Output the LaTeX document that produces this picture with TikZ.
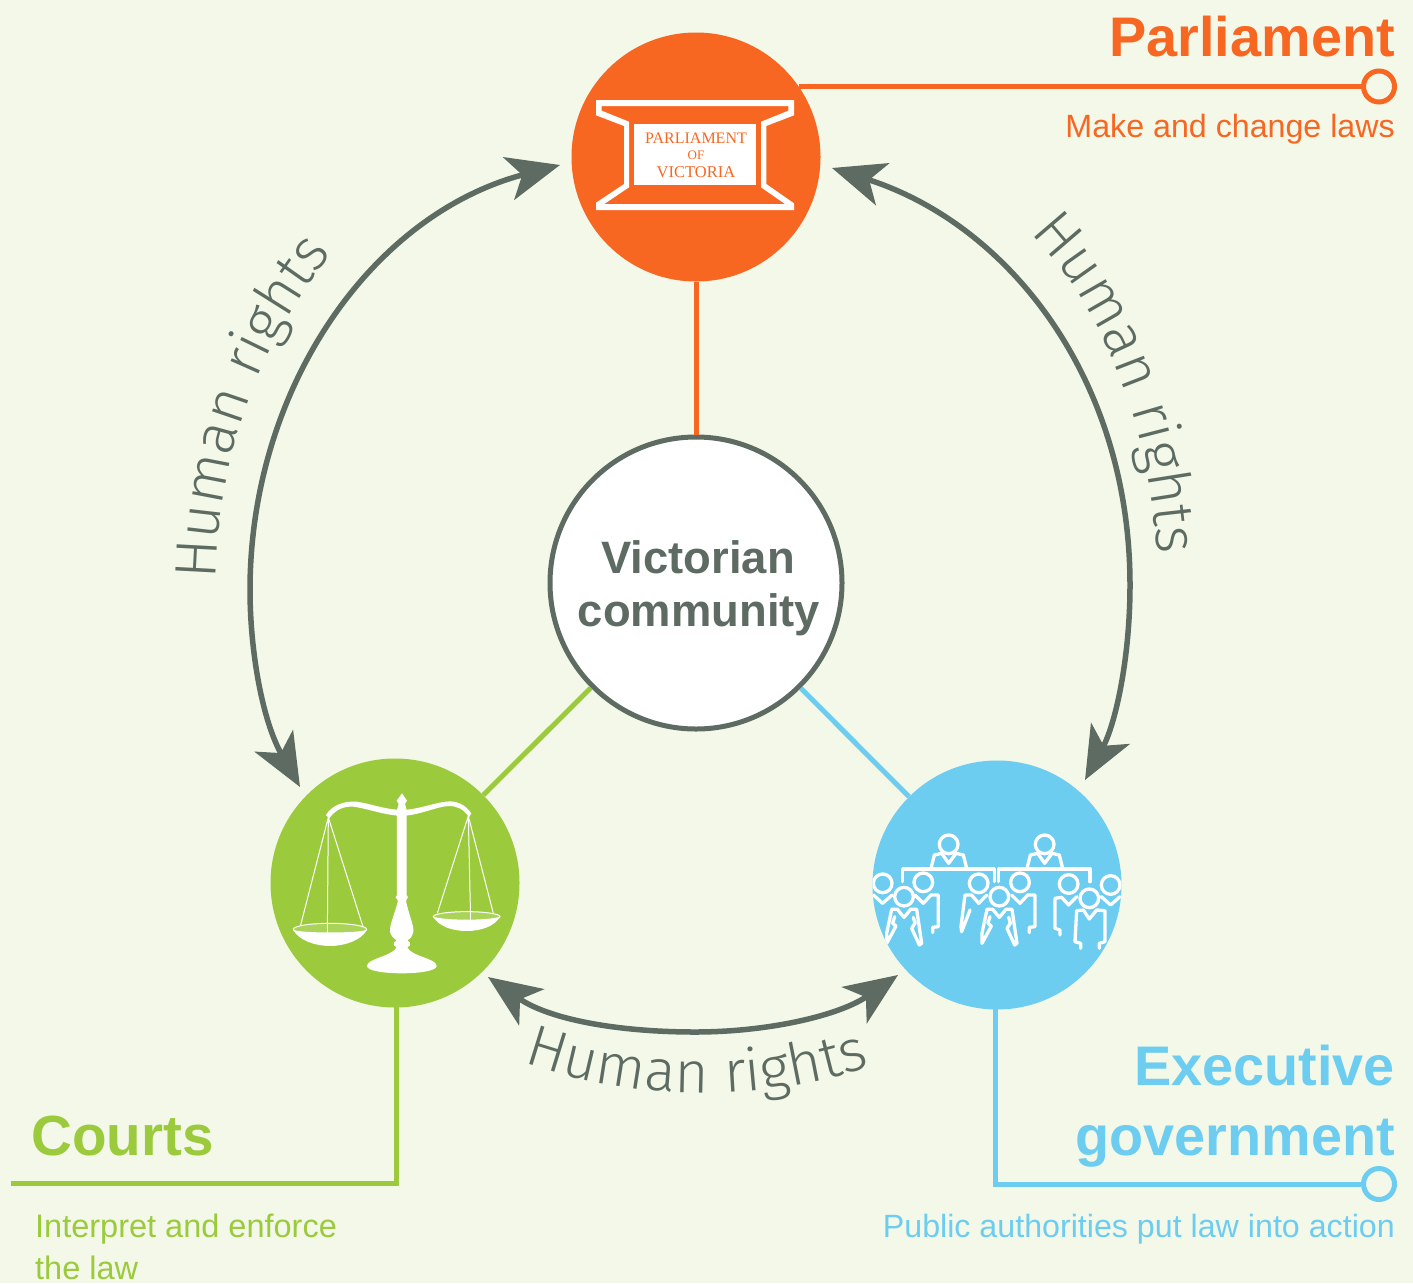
\documentclass[tikz,border=0pt]{standalone}
\usepackage{fontspec}
\setmainfont{Liberation Sans}
\newfontfamily\crestfont{Liberation Serif}
\newfontfamily\thinfont{Fira Sans Light}
\usetikzlibrary{arrows.meta,decorations.text}
\definecolor{paper}{HTML}{F3F8E9}
\definecolor{slate}{HTML}{5D6B62}
\definecolor{parlorange}{HTML}{F76722}
\definecolor{courtgreen}{HTML}{9BCB3C}
\definecolor{execblue}{HTML}{6CCDF1}
\newcommand{\sized}[1]{\fontsize{#1}{#1}\selectfont}
\newcommand{\rightsfont}{\thinfont\sized{58.5}\color{slate}}
\tikzset{
  hub/.style={circle,minimum size=249pt,inner sep=0pt},
  link/.style={line width=5pt},
  rightsarrow/.style={draw=slate,line width=5.5pt,{Stealth[length=53pt,width=44pt,inset=14pt]}-{Stealth[length=53pt,width=44pt,inset=14pt]}},
  rightstext/.style={decorate,decoration={text along path,text align=center,text={|\rightsfont|Human rights}}},
  endring/.style={circle,minimum size=31pt,inner sep=0pt,line width=5pt,fill=paper},
  heading/.style={inner sep=0pt,font=\sized{55.8}\bfseries},
  caption/.style={inner sep=0pt,font=\sized{32.2}},
  staff/.style={draw=white,line width=3.3pt,line join=round,line cap=round},
  staffseat/.pic={
    \draw[staff] (0,0) circle [radius=28];
    \draw[staff] (-53,72)--(-43,32)--(-21,27)--(0,57)--(22,27)--(44,32)--(54,72);
  },
  staffright/.pic={
    \draw[staff] (0,0) circle [radius=28];
    \draw[staff] (-25,38)--(0,63)--(23,38)--(45,38)--(45,133)--(28,135)--(28,151);
  },
  stafflean/.pic={
    \draw[staff] (0,0) circle [radius=28];
    \draw[staff] (24,35)--(0,60)--(-21,35)--(-41,35)--(-53,130)--(-51,145)--(-26,80);
  },
  staffback/.pic={
    \draw[staff] (0,0) circle [radius=28];
    \draw[staff] (24,38)--(0,63)--(-21,40)--(-41,43)--(-41,133)--(-26,138)--(-26,153);
  },
  staffcollar/.pic={
    \draw[staff] (0,0) circle [radius=28];
    \draw[staff] (-28,35)--(0,60)--(28,35);
  },
  stafffront/.pic={
    \draw[staff] (0,0) circle [radius=28];
    \draw[staff] (-28,60)--(-34,80)--(-24,88)--(-52,140)--(-52,110)--(-37,38)--(-20,38)--(0,62)--(20,38)--(38,38)--(53,140)--(46,145)--(23,95)--(33,80)--(28,62);
  },
  stafffull/.pic={
    \draw[staff] (0,0) circle [radius=28];
    \draw[staff] (-26,150)--(-26,135)--(-43,130)--(-38,37)--(-18,35)--(0,62)--(22,35)--(47,37)--(47,130)--(30,135)--(30,150);
  }
}
\begin{document}
\begin{tikzpicture}[x=1pt,y=-1pt]
  \useasboundingbox (0,0) rectangle (1413,1283);
  \fill[paper] (0,0) rectangle (1413,1283);
  % the three arms and the centre
  \node[hub,fill=parlorange] (parliament) at (696,157) {};
  \node[hub,fill=courtgreen] (courts) at (395,883) {};
  \node[hub,fill=execblue] (executive) at (997,885) {};
  \node[circle,minimum size=292pt,inner sep=0pt,draw=slate,line width=5pt,fill=white] (community) at (696,583) {};
  \node[inner sep=0pt,anchor=base,text=slate,font=\sized{45.4}\bfseries] (communitya) at (698,573) {Victorian};
  \node[inner sep=0pt,anchor=base,text=slate,font=\sized{45.4}\bfseries] (communityb) at (699,626) {community};
  \draw[link,parlorange] (parliament) -- (community);
  \draw[link,courtgreen] (courts) -- (community);
  \draw[link,execblue] (executive) -- (community);
  % call-out lines
  \node[endring,draw=parlorange] (parlend) at (1379,86.5) {};
  \node[endring,draw=execblue] (execend) at (1379,1184) {};
  \coordinate (courtend) at (11,1183.5);
  \draw[link,parlorange] (parlend) -- (parlend -| parliament.34);
  \draw[link,execblue] (execend) -- (995,1184) -- (995,1009);
  \draw[link,courtgreen] (courtend) -- (396.5,1183.5) -- (396.5,1006);
  % arrows between the arms
  \coordinate (courtstip) at (300,787);
  \coordinate (parlleft) at (560,165);
  \coordinate (parlright) at (832,168);
  \coordinate (exectip) at (1085,780);
  \coordinate (courtsbase) at (488,977);
  \coordinate (execbase) at (898,975);
  \draw[rightsarrow] (courtstip) .. controls (262,720) and (250,650) .. (250,590) .. controls (250,390) and (370,215) .. (parlleft);
  \draw[rightsarrow] (parlright) .. controls (1010,225) and (1130,380) .. (1130,585) .. controls (1130,660) and (1115,725) .. (exectip);
  \draw[rightsarrow] (courtsbase) .. controls (550,1020) and (620,1032) .. (695,1032) .. controls (770,1032) and (840,1015) .. (execbase);
  \path[rightstext] (216,572) .. controls (220,447) and (262,342) .. (328,259);
  \path[rightstext] (1030,232) .. controls (1100,305) and (1150,420) .. (1157,555);
  \path[rightstext] (528,1064) .. controls (640,1102) and (760,1102) .. (866,1068);
  % titles
  \node[heading,anchor=base east,text=parlorange] (parltitle) at (1395,56) {Parliament};
  \node[caption,anchor=base east,text=parlorange] (parlnote) at (1395,137) {Make and change laws};
  \node[heading,anchor=base east,text=execblue] (exectitle) at (1395,1085) {Executive};
  \node[heading,anchor=base east,text=execblue] (exectitlb) at (1395,1155.5) {government};
  \node[caption,anchor=base east,text=execblue] (execnote) at (1395,1237) {Public authorities put law into action};
  \node[heading,anchor=base west,text=courtgreen,font=\sized{56.6}\bfseries] (courttitle) at (31,1155.5) {Courts};
  \node[caption,anchor=base west,text=courtgreen,font=\sized{32.5}] (courtnote) at (35,1237) {Interpret and enforce};
  \node[caption,anchor=base west,text=courtgreen,font=\sized{32.5}] (courtnotb) at (35,1279) {the law};
  % parliament crest
  \fill[white,even odd rule] (596,100)--(794,100)--(794,115.3)--(766.3,126)--(766.3,184)--(794,203.3)--(794,210)--(596,210)--(596,202.7)--(624,184)--(624,126)--(596,115.3)--cycle
    (601.7,106)--(788.3,106)--(788.3,110.7)--(761,121.7)--(761,187.3)--(785,204)--(604.3,204)--(629,187.3)--(629,121.7)--(601.7,110.7)--cycle;
  \fill[white] (634,124) rectangle (756,185);
  \node[inner sep=0pt,text=parlorange,font=\crestfont\sized{16}] (crestline) at (696,138.5) {PARLIAMENT};
  \node[inner sep=0pt,text=parlorange,font=\crestfont\sized{13}] (crestof) at (696,155.5) {OF};
  \node[inner sep=0pt,text=parlorange,font=\crestfont\sized{16.5}] (crestname) at (696,172) {VICTORIA};
  % scales
  \begin{scope}[shift={(270,760)},x=0.3333pt,y=-0.3333pt]
    \fill[white] (168,165) .. controls (185,135) and (225,122) .. (260,125) .. controls (300,130) and (340,148) .. (396,150) .. controls (450,148) and (500,125) .. (540,124) .. controls (570,125) and (590,140) .. (604,160) -- (597,172) .. controls (580,145) and (560,138) .. (535,138) .. controls (500,140) and (450,165) .. (396,168) .. controls (340,165) and (290,145) .. (250,140) .. controls (220,138) and (195,150) .. (178,175) -- cycle;
    \fill[white] (396,100)--(411,122)--(405,132)--(410,150)--(410,405)--(414,412)--(408,422) .. controls (415,460) and (432,495) .. (430,515) .. controls (428,530) and (418,538) .. (412,541)--(420,548)--(420,556)--(412,562) .. controls (425,590) and (500,595) .. (500,618) .. controls (500,632) and (450,640) .. (396,640) .. controls (340,640) and (291,632) .. (291,618) .. controls (291,595) and (365,590) .. (380,562)--(372,556)--(372,548)--(380,541) .. controls (372,535) and (362,528) .. (360,515) .. controls (358,495) and (375,460) .. (384,422)--(377,412)--(381,405)--(381,150)--(386,132)--(380,122)--cycle;
    \draw[white,line width=1pt] (175,172)--(92,495) (175,172)--(172,522) (175,172)--(278,497);
    \draw[white,line width=1pt] (595,168)--(502,460) (595,168)--(602,483) (595,168)--(670,460);
    \draw[white,line width=1pt,fill=courtgreen!85!white] (180,508) ellipse [x radius=110,y radius=18];
    \fill[white] (70,510) .. controls (100,520) and (260,520) .. (290,510) .. controls (275,540) and (225,558) .. (180,558) .. controls (135,558) and (85,540) .. (70,510) -- cycle;
    \draw[white,line width=1pt,fill=courtgreen!85!white] (590,470) ellipse [x radius=100,y radius=15];
    \fill[white] (490,470) .. controls (520,482) and (660,482) .. (690,470) .. controls (675,498) and (635,513) .. (590,513) .. controls (545,513) and (505,498) .. (490,470) -- cycle;
    \draw[white,line width=1pt] (172,490)--(172,522) (602,456)--(602,483);
  \end{scope}
  % executive people
  \begin{scope}
    \clip (997,885) circle [radius=124.5];
    \begin{scope}[shift={(870,820)},x=0.3333pt,y=-0.3333pt]
      \pic at (236,73) {staffseat};
      \pic at (524,73) {staffseat};
      \draw[staff] (98,185)--(98,147)--(373,147)--(373,185);
      \draw[staff] (385,185)--(385,147)--(660,147)--(660,185);
      \pic at (38,190) {staffcollar};
      \pic at (722,195) {staffcollar};
      \pic at (160,187) {staffright};
      \pic at (450,187) {staffright};
      \pic at (326,190) {stafflean};
      \pic at (596,192) {staffback};
      \pic at (102,230) {stafffront};
      \pic at (388,230) {stafffront};
      \pic at (658,235) {stafffull};
    \end{scope}
  \end{scope}
\end{tikzpicture}
\end{document}
